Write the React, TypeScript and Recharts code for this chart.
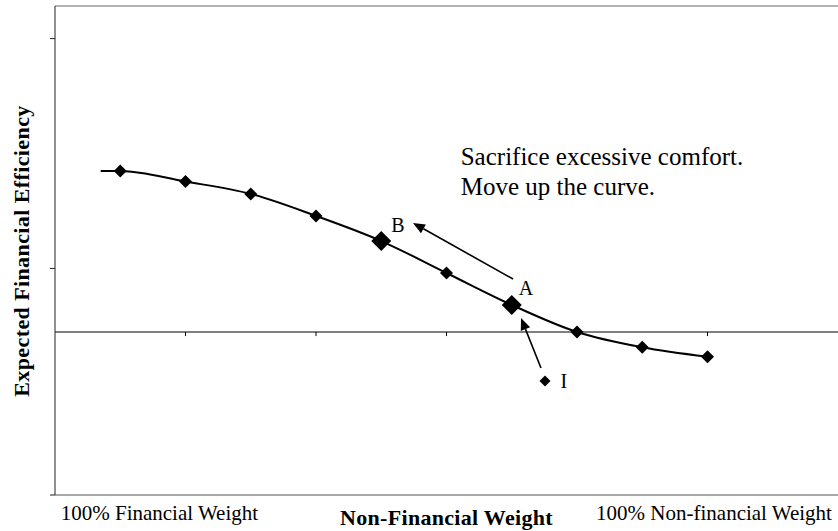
import React from "react";
import { ComposedChart, Line, Scatter, XAxis, YAxis, ReferenceLine } from "recharts";

const FONT = '"Liberation Serif", "Times New Roman", serif';

// Curve points (x in category units, y in efficiency units)
const pointX = [0.5, 1, 1.5, 2, 2.5, 3, 3.5, 4, 4.5, 5];
const pointY = [0.988, 0.923, 0.847, 0.712, 0.558, 0.362, 0.166, 0, -0.094, -0.152];
const lineStartX = 0.35;
const highlightedX = [2.5, 3.5];

// Isolated point I
const isolatedX = [3.755];
const isolatedY = [-0.301];

// Point labels
const pointLabels = ["B", "A", "I"];
const pointLabelX = [2.628, 3.609, 3.9];
const pointLabelY = [0.656, 0.27, -0.301];

// Note text
const noteLines = ["Sacrifice excessive comfort.", "Move up the curve."];
const noteX = [3.109, 3.109];
const noteY = [1.025, 0.84];

// Arrows
const arrowFromX = [3.51, 3.724];
const arrowFromY = [0.325, -0.221];
const arrowToX = [2.743, 3.571];
const arrowToY = [0.669, 0.086];

// Axes
const xTickMarks = [1, 2, 3, 4, 5];
const yTicks = [-1, 0.39, 1.8];
const xLabelTicks = [0.8, 5.05];
const xLabelTexts = ["100% Financial Weight", "100% Non-financial Weight"];
const xAxisTitle = "Non-Financial Weight";
const yAxisTitle = "Expected Financial Efficiency";

const curveData = [
  { x: lineStartX, y: pointY[0], lead: true },
  ...pointX.map((x, i) => ({ x, y: pointY[i], lead: false })),
];
const isolatedData = isolatedX.map((x, i) => ({ x, y: isolatedY[i] }));
const labelData = pointLabels.map((t, i) => ({ x: pointLabelX[i], y: pointLabelY[i], text: t }));
const noteData = noteLines.map((t, i) => ({ x: noteX[i], y: noteY[i], text: t }));

const diamond = (cx: number, cy: number, r: number) =>
  `${cx},${cy - r} ${cx + r},${cy} ${cx},${cy + r} ${cx - r},${cy}`;

const renderDot = (props: any) => {
  const { cx, cy, payload, index } = props;
  if (cx == null || cy == null || payload.lead) return <g key={`d${index}`} />;
  const big = highlightedX.includes(payload.x);
  return <polygon key={`d${index}`} points={diamond(cx, cy, big ? 10 : 6.5)} fill="#000" />;
};

const ArrowShape = (props: any) => {
  const { x1, y1, x2, y2 } = props;
  const dx = x2 - x1;
  const dy = y2 - y1;
  const len = Math.hypot(dx, dy) || 1;
  const ux = dx / len;
  const uy = dy / len;
  const headLen = 12;
  const headW = 5;
  const bx = x2 - ux * headLen;
  const by = y2 - uy * headLen;
  const px = -uy;
  const py = ux;
  return (
    <g>
      <line x1={x1} y1={y1} x2={bx} y2={by} stroke="#000" strokeWidth={1.6} />
      <polygon
        points={`${x2},${y2} ${bx + px * headW},${by + py * headW} ${bx - px * headW},${by - py * headW}`}
        fill="#000"
      />
    </g>
  );
};

export default function App() {
  return (
    <div style={{ position: "absolute", left: 0, top: 0, width: 838, height: 531, background: "#fff" }}>
      <ComposedChart width={838} height={531} margin={{ top: 6, right: 0, bottom: 0, left: 0 }}>
        <XAxis
          type="number"
          dataKey="x"
          domain={[0, 6]}
          ticks={xLabelTicks}
          interval={0}
          allowDataOverflow
          height={36}
          tickLine={false}
          axisLine={{ stroke: "#555", strokeWidth: 1 }}
          tick={(p: any) => {
            const i = xLabelTicks.indexOf(p.payload.value);
            return (
              <text x={p.x} y={520} textAnchor="middle" fontFamily={FONT} fontSize={21} fill="#000">
                {xLabelTexts[i]}
              </text>
            );
          }}
          label={{
            content: (p: any) => {
              const vb = p.viewBox || { x: 55, y: 495, width: 783, height: 36 };
              return (
                <text
                  x={vb.x + vb.width / 2}
                  y={525}
                  textAnchor="middle"
                  fontFamily={FONT}
                  fontSize={22}
                  fontWeight="bold"
                  letterSpacing={0.3}
                  fill="#000"
                >
                  {xAxisTitle}
                </text>
              );
            },
          }}
        />
        <YAxis
          type="number"
          domain={[-1, 2]}
          ticks={yTicks}
          interval={0}
          allowDataOverflow
          width={55}
          tickSize={5}
          tickLine={{ stroke: "#222" }}
          axisLine={{ stroke: "#222", strokeWidth: 1 }}
          tick={() => <g />}
          label={{
            content: () => (
              <text
                x={21}
                y={251}
                transform="rotate(-90 21 251)"
                textAnchor="middle"
                dominantBaseline="central"
                fontFamily={FONT}
                fontSize={22}
                fontWeight="bold"
                letterSpacing={0.4}
                fill="#000"
              >
                {yAxisTitle}
              </text>
            ),
          }}
        />
        <ReferenceLine y={2} stroke="#666" strokeWidth={1} />
        <ReferenceLine y={0} stroke="#000" strokeWidth={1.2} />
        {xTickMarks.map((t) => (
          <ReferenceLine
            key={`t${t}`}
            segment={[
              { x: t, y: 0 },
              { x: t, y: -0.025 },
            ]}
            stroke="#000"
            strokeWidth={1}
          />
        ))}
        {arrowFromX.map((fx, i) => (
          <ReferenceLine
            key={`a${i}`}
            segment={[
              { x: fx, y: arrowFromY[i] },
              { x: arrowToX[i], y: arrowToY[i] },
            ]}
            shape={(p: any) => <ArrowShape {...p} />}
          />
        ))}
        <Line
          data={curveData}
          dataKey="y"
          type="monotone"
          stroke="#000"
          strokeWidth={2}
          dot={renderDot}
          activeDot={false}
          isAnimationActive={false}
        />
        <Scatter
          data={isolatedData}
          dataKey="y"
          isAnimationActive={false}
          shape={(p: any) => <polygon points={diamond(p.cx, p.cy, 5.5)} fill="#000" />}
        />
        <Scatter
          data={labelData}
          dataKey="y"
          isAnimationActive={false}
          shape={(p: any) => (
            <text
              x={p.cx}
              y={p.cy}
              textAnchor="middle"
              dominantBaseline="central"
              fontFamily={FONT}
              fontSize={20}
              fill="#000"
            >
              {p.payload.text}
            </text>
          )}
        />
        <Scatter
          data={noteData}
          dataKey="y"
          isAnimationActive={false}
          shape={(p: any) => (
            <text x={p.cx} y={p.cy} textAnchor="start" fontFamily={FONT} fontSize={25} fill="#000">
              {p.payload.text}
            </text>
          )}
        />
      </ComposedChart>
    </div>
  );
}
